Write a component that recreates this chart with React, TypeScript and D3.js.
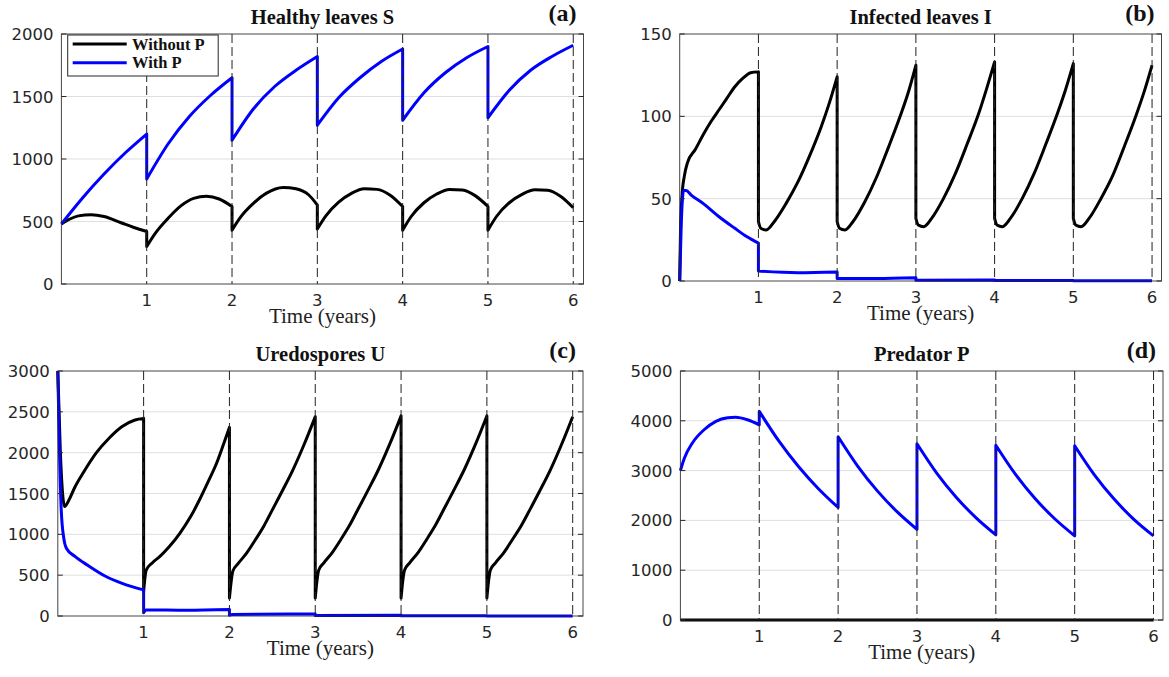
import React from "react";
import * as d3 from "d3";

type Pt = [number, number];

// ---------- data ----------
const yearMarks = [1, 2, 3, 4, 5, 6];
const xTickLabels = ["1", "2", "3", "4", "5", "6"];

// Healthy leaves S
const S_without: Pt[][] = [
  [[0, 480], [0.1, 520], [0.2, 545], [0.35, 555], [0.5, 540], [0.7, 490], [0.85, 452], [1, 420]],
  [[1, 300], [1.1, 405], [1.25, 525], [1.4, 625], [1.55, 685], [1.7, 702], [1.85, 680], [2, 620]],
  [[2, 430], [2.1, 535], [2.25, 645], [2.4, 725], [2.6, 772], [2.75, 762], [2.9, 712], [3, 632]],
  [[3, 440], [3.1, 545], [3.25, 655], [3.4, 725], [3.55, 762], [3.7, 757], [3.85, 712], [4, 620]],
  [[4, 430], [4.1, 540], [4.25, 650], [4.4, 720], [4.55, 757], [4.7, 752], [4.85, 707], [5, 620]],
  [[5, 430], [5.1, 540], [5.25, 650], [5.4, 717], [5.55, 754], [5.7, 750], [5.85, 702], [6, 610]],
];
const S_with: Pt[][] = [
  [[0, 480], [0.25, 690], [0.5, 880], [0.75, 1050], [1, 1200]],
  [[1, 840], [1.25, 1120], [1.5, 1340], [1.75, 1510], [2, 1650]],
  [[2, 1150], [2.25, 1400], [2.5, 1580], [2.75, 1710], [3, 1820]],
  [[3, 1270], [3.25, 1490], [3.5, 1650], [3.75, 1780], [4, 1880]],
  [[4, 1310], [4.25, 1530], [4.5, 1690], [4.75, 1810], [5, 1900]],
  [[5, 1330], [5.25, 1550], [5.5, 1710], [5.75, 1820], [6, 1910]],
];

// Infected leaves I
const I_without: Pt[][] = [
  [[0, 0], [0.01, 30], [0.03, 52], [0.06, 64], [0.1, 72], [0.2, 80], [0.3, 89], [0.4, 97], [0.5, 104], [0.6, 111], [0.7, 118], [0.8, 123], [0.9, 126.5], [1, 127]],
  [[1, 36], [1.03, 32], [1.1, 31], [1.2, 36], [1.35, 47], [1.5, 60], [1.65, 76], [1.8, 94], [1.9, 108], [2, 124]],
  [[2, 36], [2.03, 32], [2.1, 31], [2.2, 36], [2.35, 48], [2.5, 63], [2.65, 81], [2.8, 100], [2.9, 114], [3, 131]],
  [[3, 38], [3.03, 34], [3.1, 33], [3.2, 38], [3.35, 50], [3.5, 65], [3.65, 83], [3.8, 102], [3.9, 117], [4, 133]],
  [[4, 38], [4.03, 34], [4.1, 33], [4.2, 38], [4.35, 50], [4.5, 65], [4.65, 83], [4.8, 102], [4.9, 116], [5, 132]],
  [[5, 38], [5.03, 34], [5.1, 33], [5.2, 38], [5.35, 50], [5.5, 64], [5.65, 82], [5.8, 101], [5.9, 115], [6, 131]],
];
const I_with: Pt[][] = [
  [[0, 0], [0.02, 35], [0.05, 55], [0.08, 55], [0.15, 52], [0.3, 47], [0.5, 39], [0.7, 32], [0.85, 27], [1, 23]],
  [[1, 6], [1.5, 5], [2, 5.5]],
  [[2, 1.5], [2.5, 1.5], [3, 2]],
  [[3, 0.5], [4, 0.6]],
  [[4, 0.3], [5, 0.3]],
  [[5, 0.2], [6, 0.2]],
];

// Uredospores U
const U_without: Pt[][] = [
  [[0, 3000], [0.03, 2000], [0.06, 1450], [0.08, 1340], [0.12, 1400], [0.2, 1580], [0.3, 1760], [0.45, 2000], [0.6, 2180], [0.75, 2320], [0.9, 2400], [1, 2420]],
  [[1, 300], [1.03, 560], [1.1, 650], [1.19, 730], [1.3, 850], [1.42, 1010], [1.55, 1220], [1.65, 1420], [1.75, 1640], [1.85, 1870], [1.93, 2100], [2, 2310]],
  [[2, 220], [2.02, 420], [2.04, 550], [2.1, 640], [2.2, 770], [2.3, 930], [2.4, 1100], [2.5, 1300], [2.62, 1540], [2.74, 1790], [2.87, 2100], [3, 2440]],
  [[3, 220], [3.02, 430], [3.04, 560], [3.1, 650], [3.2, 780], [3.3, 940], [3.4, 1110], [3.5, 1310], [3.62, 1550], [3.74, 1800], [3.87, 2110], [4, 2450]],
  [[4, 220], [4.02, 430], [4.04, 560], [4.1, 650], [4.2, 780], [4.3, 940], [4.4, 1110], [4.5, 1310], [4.62, 1550], [4.74, 1800], [4.87, 2110], [5, 2450]],
  [[5, 220], [5.02, 430], [5.04, 560], [5.1, 650], [5.2, 780], [5.3, 940], [5.4, 1105], [5.5, 1300], [5.62, 1540], [5.74, 1790], [5.87, 2100], [6, 2440]],
];
const U_with: Pt[][] = [
  [[0, 3000], [0.02, 2000], [0.04, 1300], [0.07, 950], [0.1, 830], [0.2, 730], [0.35, 620], [0.55, 490], [0.75, 400], [1, 320]],
  [[1, 40], [1.03, 75], [1.5, 70], [2, 80]],
  [[2, 10], [2.03, 18], [3, 25]],
  [[3, 5], [4, 8]],
  [[4, 2], [5, 3]],
  [[5, 1], [6, 1]],
];

// Predator P
const P_without: Pt[][] = [[[0, 0], [6, 0]]];
const P_with: Pt[][] = [
  [[0, 3000], [0.05, 3250], [0.15, 3550], [0.3, 3820], [0.45, 3990], [0.6, 4060], [0.7, 4070], [0.85, 4020], [1, 3920]],
  [[1, 4190], [1.25, 3590], [1.5, 3077], [1.75, 2637], [2, 2260]],
  [[2, 3680], [2.25, 3086], [2.5, 2588], [2.75, 2170], [3, 1820]],
  [[3, 3540], [3.25, 2951], [3.5, 2461], [3.75, 2051], [4, 1710]],
  [[4, 3510], [4.25, 2924], [4.5, 2435], [4.75, 2028], [5, 1690]],
  [[5, 3500], [5.25, 2915], [5.5, 2428], [5.75, 2022], [6, 1690]],
];

const ticksS = [0, 500, 1000, 1500, 2000];
const ticksI = [0, 50, 100, 150];
const ticksU = [0, 500, 1000, 1500, 2000, 2500, 3000];
const ticksP = [0, 1000, 2000, 3000, 4000, 5000];

const legendLabels = ["Without P", "With P"];
const seriesColors = ["#000000", "#0000ff"];

// ---------- layout ----------
const X_MAX = 6.12;
const panels = [
  { title: "Healthy leaves S", tag: "(a)", ticks: ticksS, series: [S_without, S_with], box: { l: 61.4, r: 583.5, t: 34, b: 284 }, legend: true },
  { title: "Infected leaves I", tag: "(b)", ticks: ticksI, series: [I_without, I_with], box: { l: 679.7, r: 1161.5, t: 34, b: 281 }, legend: false },
  { title: "Uredospores U", tag: "(c)", ticks: ticksU, series: [U_without, U_with], box: { l: 57.8, r: 583, t: 371, b: 616 }, legend: false },
  { title: "Predator P", tag: "(d)", ticks: ticksP, series: [P_without, P_with], box: { l: 680.4, r: 1163, t: 371, b: 620 }, legend: false },
];

const AXIS = "#262626";
const TICK_FONT = "'DejaVu Sans', sans-serif";
const SERIF = "'Liberation Serif', 'Times New Roman', serif";

function seriesPath(segs: Pt[][], x: d3.ScaleLinear<number, number>, y: d3.ScaleLinear<number, number>) {
  const line = d3
    .line<Pt>()
    .x((d) => x(d[0]))
    .y((d) => y(d[1]))
    .curve(d3.curveMonotoneX);
  return segs
    .map((s, i) => {
      const p = line(s) || "";
      return i === 0 ? p : "L" + p.slice(1);
    })
    .join("");
}

function Panel({ p }: { p: (typeof panels)[number] }) {
  const { l, r, t, b } = p.box;
  const yMax = p.ticks[p.ticks.length - 1];
  const x = d3.scaleLinear().domain([0, X_MAX]).range([l, r]);
  const y = d3.scaleLinear().domain([0, yMax]).range([b, t]);
  const cx = (l + r) / 2;
  return (
    <g>
      {/* grid */}
      {p.ticks.slice(1, -1).map((v) => (
        <line key={"g" + v} x1={l} x2={r} y1={y(v)} y2={y(v)} stroke="#dfdfdf" strokeWidth={1} />
      ))}
      {/* curves: black then blue */}
      {p.series.map((segs, i) => (
        <path
          key={"s" + i}
          d={seriesPath(segs, x, y)}
          fill="none"
          stroke={seriesColors[i]}
          strokeWidth={3}
          strokeLinejoin="round"
          strokeLinecap="butt"
        />
      ))}
      {/* year dashed lines */}
      {yearMarks.map((m) => (
        <line key={"d" + m} x1={x(m)} x2={x(m)} y1={t} y2={b} stroke="#222" strokeWidth={1} strokeDasharray="9,4" />
      ))}
      {/* box */}
      <rect x={l} y={t} width={r - l} height={b - t} fill="none" stroke={AXIS} strokeWidth={1} opacity={0.85} />
      {/* y ticks inside, both sides */}
      {p.ticks.map((v) => (
        <g key={"t" + v}>
          <line x1={l} x2={l + 5} y1={y(v)} y2={y(v)} stroke={AXIS} strokeWidth={1} />
          <line x1={r} x2={r - 5} y1={y(v)} y2={y(v)} stroke={AXIS} strokeWidth={1} />
          <text x={l - 8} y={y(v) + 6} textAnchor="end" fontFamily={TICK_FONT} fontSize={16.5} fill={AXIS}>
            {v}
          </text>
        </g>
      ))}
      {/* x tick labels */}
      {yearMarks.map((m, i) => (
        <text key={"x" + m} x={x(m)} y={b + 22} textAnchor="middle" fontFamily={TICK_FONT} fontSize={16.5} fill={AXIS}>
          {xTickLabels[i]}
        </text>
      ))}
      <text x={cx} y={b + 39} textAnchor="middle" fontFamily={SERIF} fontSize={21} fill="#222">
        Time (years)
      </text>
      <text x={cx} y={t - 10} textAnchor="middle" fontFamily={SERIF} fontWeight="bold" fontSize={20.5} fill="#111">
        {p.title}
      </text>
      <text x={r - 7} y={t - 13} textAnchor="end" fontFamily={SERIF} fontWeight="bold" fontSize={24} fill="#111">
        {p.tag}
      </text>
      {p.legend && (
        <g>
          <rect x={l + 6.3} y={t + 1} width={150.5} height={41} fill="#fff" stroke={AXIS} strokeWidth={1} />
          {legendLabels.map((lab, i) => (
            <g key={lab}>
              <line x1={l + 11.3} x2={l + 65.3} y1={t + 10 + i * 18.7} y2={t + 10 + i * 18.7} stroke={seriesColors[i]} strokeWidth={3} />
              <text x={l + 70.6} y={t + 15.5 + i * 18.7} fontFamily={SERIF} fontWeight="bold" fontSize={16.5} fill="#111">
                {lab}
              </text>
            </g>
          ))}
        </g>
      )}
    </g>
  );
}

export default function App() {
  return (
    <svg
      width={1169}
      height={677}
      viewBox="0 0 1169 677"
      style={{ position: "absolute", left: 0, top: 0, background: "#fff" }}
    >
      <rect x={0} y={0} width={1169} height={677} fill="#fff" />
      {panels.map((p) => (
        <Panel key={p.tag} p={p} />
      ))}
    </svg>
  );
}
